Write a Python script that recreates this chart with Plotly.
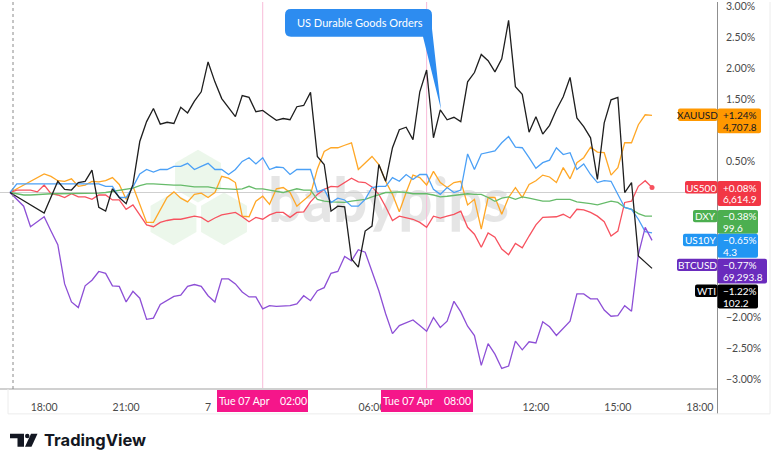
import plotly.graph_objects as go
import pandas as pd

# ---------------- data (percent change vs. start) ----------------
time_index = pd.date_range("2026-04-06 16:45", periods=95, freq="15min")

xauusd = [0.00, None, None, None, None, 0.30, 0.26, 0.19, 0.18, 0.22,
          0.10, 0.12, 0.18, 0.17, 0.19, 0.24, 0.13, -0.11, 0.10, -0.19,
          -0.48, -0.48, -0.27, -0.08, 0.01, -0.09, -0.15, -0.03, -0.01, -0.08,
          0.00, 0.26, 0.23, 0.16, -0.38, -0.39, -0.14, -0.06, -0.19, 0.06,
          0.08, 0.00, -0.22, -0.12, -0.03, 0.38, 0.66, 0.72, 0.72, 0.76,
          0.80, 0.37, 0.48, 0.58, 0.45, 0.18, -0.03, -0.31, 0.00, 0.28,
          0.24, 0.12, 0.34, 0.16, 0.08, 0.16, 0.18, -0.20, -0.11, -0.59,
          -0.08, -0.08, -0.35, -0.08, 0.08, -0.08, 0.13, 0.19, 0.28, 0.25,
          0.16, 0.40, 0.22, 0.48, 0.56, 0.73, 0.65, 0.64, 0.28, 0.40,
          0.80, 0.80, 1.09, 1.25, 1.24]

us500 = [0.00, 0.04, 0.04, 0.04, 0.01, 0.12, -0.02, -0.04, -0.08, -0.02,
         -0.07, -0.07, -0.11, -0.04, -0.04, -0.12, -0.12, -0.27, -0.20, -0.35,
         -0.52, -0.55, -0.48, -0.45, -0.43, -0.43, -0.40, -0.38, -0.40, -0.47,
         -0.41, -0.36, -0.34, -0.32, -0.39, -0.47, -0.40, -0.43, -0.36, -0.32,
         -0.32, -0.40, -0.32, -0.31, -0.15, -0.03, 0.05, 0.10, 0.09, 0.16,
         0.23, 0.17, 0.16, 0.09, -0.03, -0.23, -0.45, -0.38, -0.40, -0.43,
         -0.48, -0.56, -0.38, -0.41, -0.38, -0.35, -0.30, -0.56, -0.67, -0.88,
         -0.65, -0.72, -0.91, -1.00, -0.82, -0.89, -0.70, -0.52, -0.40, -0.39,
         -0.39, -0.35, -0.41, -0.27, -0.28, -0.32, -0.38, -0.47, -0.70, -0.62,
         -0.16, -0.14, 0.10, 0.19, 0.08]

dxy = [0.00, -0.02, -0.04, -0.04, -0.03, -0.02, -0.02, -0.02, -0.02, -0.02,
       -0.02, -0.02, -0.01, -0.01, 0.00, 0.02, 0.04, 0.05, 0.07, 0.11,
       0.14, 0.14, 0.13, 0.12, 0.12, 0.12, 0.10, 0.09, 0.09, 0.09,
       0.07, 0.06, 0.05, 0.05, 0.06, 0.10, 0.06, 0.06, 0.04, 0.02,
       0.00, 0.03, 0.06, 0.04, 0.04, -0.11, -0.14, -0.15, -0.16, -0.16,
       -0.14, -0.12, -0.11, -0.07, -0.03, 0.00, 0.00, 0.01, 0.00, -0.02,
       -0.02, -0.02, -0.04, -0.07, -0.06, -0.05, -0.03, -0.02, -0.03, -0.03,
       -0.08, -0.14, -0.09, -0.07, -0.11, -0.07, -0.09, -0.12, -0.14, -0.14,
       -0.11, -0.11, -0.11, -0.15, -0.16, -0.18, -0.20, -0.17, -0.14, -0.16,
       -0.24, -0.27, -0.34, -0.38, -0.38]

us10y = [0.00, 0.14, 0.14, 0.14, 0.14, 0.14, 0.14, 0.14, 0.14, 0.14,
         0.14, 0.14, 0.14, 0.14, 0.10, 0.10, -0.08, -0.08, 0.09, 0.30,
         0.37, 0.33, 0.37, 0.37, 0.42, 0.42, 0.47, 0.37, 0.42, 0.47,
         0.37, 0.37, 0.29, 0.37, 0.50, 0.56, 0.46, 0.56, 0.37, 0.41,
         0.40, 0.29, 0.37, 0.37, 0.37, 0.01, 0.05, -0.16, -0.09, -0.12,
         -0.22, -0.22, -0.11, 0.08, 0.10, 0.10, 0.24, 0.18, 0.29, 0.21,
         0.29, 0.29, 0.05, -0.03, 0.08, 0.00, 0.04, 0.62, 0.37, 0.62,
         0.64, 0.67, 0.80, 0.90, 0.73, 0.72, 0.56, 0.39, 0.48, 0.52,
         0.72, 0.61, 0.64, 0.37, 0.46, 0.29, 0.16, 0.19, 0.18, -0.04,
         -0.24, -0.27, -0.43, -0.63, -0.65]

btcusd = [0.00, None, -0.22, -0.55, None, -0.39, -0.62, -0.84, -1.47, -1.76,
          -1.85, -1.50, -1.41, -1.27, -1.30, -1.50, -1.51, -1.76, -1.59, -1.70,
          -2.04, -2.02, -1.80, -1.74, -1.67, -1.65, -1.51, -1.48, -1.51, -1.66,
          -1.76, -1.39, -1.39, -1.47, -1.60, -1.68, -1.68, -1.87, -1.82, -1.83,
          -1.82, -1.82, -1.79, -1.66, -1.74, -1.58, -1.53, -1.30, -1.27, -1.03,
          -1.10, -0.92, -0.96, -1.28, -1.58, -1.95, -2.27, -2.14, -2.10, -2.05,
          -2.14, -2.23, -2.01, -2.17, -2.07, -1.75, -1.92, -2.15, -2.30, -2.78,
          -2.43, -2.60, -2.83, -2.79, -2.39, -2.53, -2.40, -2.42, -2.08, -2.16,
          -2.30, -2.19, -2.07, -1.63, -1.63, -1.71, -1.71, -1.89, -1.99, -1.98,
          -1.82, -1.91, -1.00, -0.56, -0.77]

wti = [0.00, None, None, None, None, -0.33, None, 0.18, 0.05, 0.04,
       0.16, 0.18, 0.36, -0.24, -0.30, 0.06, -0.08, -0.18, 0.13, 0.82,
       1.14, 1.35, 1.10, 1.13, 1.11, 1.37, 1.28, 1.47, 1.62, 2.10,
       1.78, 1.51, 1.37, 1.22, 1.56, 1.53, 1.30, 1.32, 1.24, 1.16,
       1.19, 1.17, 1.38, 1.40, 1.61, 0.58, 0.45, -0.30, -0.22, -0.23,
       -1.07, -1.20, -0.62, -0.54, 0.45, 0.18, 0.72, 1.01, 1.05, 0.85,
       1.62, 1.97, 0.88, 1.33, 1.17, 1.21, 1.14, 1.78, 1.93, 2.22,
       2.12, 1.94, 2.15, 2.77, 1.70, 1.58, 0.97, 1.22, 0.94, 1.08,
       1.33, 1.54, 1.85, 1.20, 1.06, 0.88, 0.21, 1.12, 1.49, 1.53,
       0.00, 0.16, -1.02, -1.12, -1.22]

symbols = ["XAUUSD", "US500", "DXY", "US10Y", "BTCUSD", "WTI"]
last_change = ["+1.24%", "+0.08%", "\u22120.38%", "\u22120.65%", "\u22120.77%", "\u22121.22%"]
last_price = ["4,707.8", "6,614.9", "99.6", "4.3", "69,293.8", "102.2"]

tick_times = pd.to_datetime(["2026-04-06 18:00", "2026-04-06 21:00", "2026-04-07 00:00",
                             "2026-04-07 06:00", "2026-04-07 12:00", "2026-04-07 15:00",
                             "2026-04-07 18:00"])
tick_text = ["18:00", "21:00", "7", "06:00", "12:00", "15:00", "18:00"]
y_ticks = [3.0, 2.5, 2.0, 1.5, 0.5, -2.0, -2.5, -3.0]
y_tick_text = ["3.00%", "2.50%", "2.00%", "1.50%", "0.50%", "\u22122.00%", "\u22122.50%", "\u22123.00%"]
event_times = ["2026-04-07 02:00", "2026-04-07 08:00"]
event_text = ["Tue 07 Apr\u00a0\u00a0\u00a0\u00a002:00", "Tue 07 Apr\u00a0\u00a0\u00a0\u00a008:00"]
callout_text = "US Durable Goods Orders"

# ---------------- styles ----------------
series = [xauusd, us500, dxy, us10y, btcusd, wti]
line_colors = ["#ffa726", "#f7525f", "#66bb6a", "#4ba0f6", "#8d4fd6", "#1e1e1e"]
box_colors = ["#ff9800", "#f23645", "#4caf50", "#2196f3", "#6a2bbd", "#000000"]
box_text_colors = ["#131722", "white", "white", "white", "white", "white"]
FONT = "Lato"

W, H = 780, 467
PW, PH = 718, 388  # plot area in pixels


def px(x):
    return x / PW


def py(y):
    return 1 - y / PH


def P(x, y):
    return f"{px(x):.5f},{py(y):.5f}"


def rrect(x0, y0, x1, y1, r):
    return (f"M{P(x0 + r, y0)} L{P(x1 - r, y0)} Q{P(x1, y0)} {P(x1, y0 + r)} "
            f"L{P(x1, y1 - r)} Q{P(x1, y1)} {P(x1 - r, y1)} L{P(x0 + r, y1)} "
            f"Q{P(x0, y1)} {P(x0, y1 - r)} L{P(x0, y0 + r)} Q{P(x0, y0)} {P(x0 + r, y0)} Z")


def hexagon(cx, cy, r):
    c = 0.8660254 * r
    pts = [(cx, cy - r), (cx + c, cy - r / 2), (cx + c, cy + r / 2),
           (cx, cy + r), (cx - c, cy + r / 2), (cx - c, cy - r / 2)]
    return "M" + " L".join(P(a, b) for a, b in pts) + " Z"


fig = go.Figure()

for name, vals, col in zip(symbols, series, line_colors):
    fig.add_trace(go.Scatter(x=time_index, y=vals, mode="lines", name=name,
                             connectgaps=True,
                             line=dict(color=col, width=1.3), showlegend=False))

# last-point dot on US500
fig.add_trace(go.Scatter(x=[time_index[-1]], y=[us500[-1]], mode="markers",
                         marker=dict(color=line_colors[1], size=5),
                         showlegend=False))

shapes = []
annotations = []

# watermark (below lines)
for cx, cy in [(198, 175), (173.5, 218), (224, 218)]:
    shapes.append(dict(type="path", xref="paper", yref="paper", layer="below",
                       path=hexagon(cx, cy, 26.5),
                       fillcolor="rgba(110,190,100,0.13)", line=dict(width=0)))
shapes.append(dict(type="rect", xref="paper", yref="paper", layer="below",
                   x0=px(262), x1=px(515), y0=py(235), y1=py(160),
                   line=dict(width=0), fillcolor="rgba(0,0,0,0)",
                   label=dict(text="babypips", textposition="middle center",
                              font=dict(family=FONT, size=60, weight=900,
                                        color="rgba(0,0,0,0.10)"))))

# left dotted session line
shapes.append(dict(type="line", xref="paper", yref="paper", x0=px(13), x1=px(13),
                   y0=py(0), y1=py(392), line=dict(color="#8a8a8a", width=1, dash="dot")))

# event vertical lines
for t in event_times:
    shapes.append(dict(type="line", xref="x", yref="paper", x0=t, x1=t, y0=0, y1=1,
                       line=dict(color="#f8bbd9", width=1), layer="below"))

# frame lines
shapes.append(dict(type="line", xref="paper", yref="paper", x0=px(717.5), x1=px(717.5),
                   y0=py(0), y1=py(414), line=dict(color="#8f8f8f", width=1)))
shapes.append(dict(type="line", xref="paper", yref="paper", x0=px(8), x1=px(770),
                   y0=py(414), y1=py(414), line=dict(color="#ececec", width=1)))
shapes.append(dict(type="line", xref="paper", yref="paper", x0=px(8), x1=px(8),
                   y0=py(389), y1=py(414), line=dict(color="#ececec", width=1)))
shapes.append(dict(type="line", xref="paper", yref="paper", x0=px(770), x1=px(770),
                   y0=py(0), y1=py(414), line=dict(color="#ececec", width=1)))

# event boxes on time axis
for (x0, x1), txt in zip([(217, 308), (381, 473)], event_text):
    shapes.append(dict(type="rect", xref="paper", yref="paper", layer="above",
                       x0=px(x0), x1=px(x1), y0=py(390), y1=py(412),
                       fillcolor="#f5168a", line=dict(width=0)))
    annotations.append(dict(xref="paper", yref="paper", x=px((x0 + x1) / 2), y=py(401),
                            text=txt, showarrow=False, xanchor="center", yanchor="middle",
                            font=dict(family=FONT, size=10.5, color="white")))

# callout
callout_path = (f"M{P(291, 7)} L{P(426, 7)} Q{P(432, 7)} {P(432, 13)} L{P(432, 27)} "
                f"L{P(441, 108)} L{P(423, 35)} L{P(291, 35)} Q{P(285, 35)} {P(285, 29)} "
                f"L{P(285, 13)} Q{P(285, 7)} {P(291, 7)} Z")
shapes.append(dict(type="path", xref="paper", yref="paper", layer="above",
                   path=callout_path, fillcolor="#2d8cf0", line=dict(width=0)))
annotations.append(dict(xref="paper", yref="paper", x=px(295), y=py(21), text=callout_text,
                        showarrow=False, xanchor="left", yanchor="middle",
                        font=dict(family=FONT, size=11, color="white")))

# right-side price labels
label_geom = [  # name_x0, top, bottom(value), value_x1
    (678, 107, 132, 761),
    (685, 180, 205, 761),
    (693, 209, 233, 758),
    (683, 233, 257, 758),
    (677, 258, 283, 767),
    (695, 284, 308, 758),
]
for (nx0, top, bot, vx1), name, chg, prc, bc, tc in zip(
        label_geom, symbols, last_change, last_price, box_colors, box_text_colors):
    shapes.append(dict(type="path", xref="paper", yref="paper", layer="above",
                       path=rrect(nx0, top, 717.5, top + 12.5, 2), fillcolor=bc, line=dict(width=0)))
    shapes.append(dict(type="path", xref="paper", yref="paper", layer="above",
                       path=rrect(717.5, top, vx1, bot, 2), fillcolor=bc, line=dict(width=0)))
    annotations.append(dict(xref="paper", yref="paper", x=px((nx0 + 717.5) / 2), y=py(top + 6.5),
                            text=name, showarrow=False, xanchor="center", yanchor="middle",
                            font=dict(family=FONT, size=10, color=tc)))
    annotations.append(dict(xref="paper", yref="paper", x=px(721), y=py(top + 6.5),
                            text=chg, showarrow=False, xanchor="left", yanchor="middle",
                            font=dict(family=FONT, size=10, color=tc)))
    annotations.append(dict(xref="paper", yref="paper", x=px(721), y=py(top + 18.5),
                            text=prc, showarrow=False, xanchor="left", yanchor="middle",
                            font=dict(family=FONT, size=10, color=tc)))

# TradingView logo
shapes.append(dict(type="path", xref="paper", yref="paper",
                   path=f"M{P(10, 434)} L{P(24, 434)} L{P(24, 447)} L{P(17.5, 447)} L{P(17.5, 438.5)} L{P(10, 438.5)} Z",
                   fillcolor="#131722", line=dict(width=0)))
shapes.append(dict(type="circle", xref="paper", yref="paper",
                   x0=px(25), x1=px(29.5), y0=py(434), y1=py(438.5),
                   fillcolor="#131722", line=dict(width=0)))
shapes.append(dict(type="path", xref="paper", yref="paper",
                   path=f"M{P(31, 434)} L{P(37.5, 434)} L{P(31.5, 447)} L{P(25, 447)} Z",
                   fillcolor="#131722", line=dict(width=0)))
annotations.append(dict(xref="paper", yref="paper", x=px(42), y=py(440),
                        text="<b>TradingView</b>", showarrow=False, xanchor="left", yanchor="middle",
                        font=dict(family="Inter", size=16.5, color="#131722")))

fig.update_layout(
    width=W, height=H,
    margin=dict(l=0, r=W - PW, t=0, b=H - PH),
    paper_bgcolor="white", plot_bgcolor="white",
    font=dict(family=FONT, size=10, color="#4a4a4a"),
    shapes=shapes, annotations=annotations,
    xaxis=dict(type="date",
               range=["2026-04-06 16:23:02", "2026-04-07 18:39:54"],
               tickvals=list(tick_times), ticktext=tick_text,
               showgrid=False, zeroline=False,
               showline=True, linecolor="#d0d0d0", linewidth=2,
               ticks="", ticklabelstandoff=8,
               tickfont=dict(family=FONT, size=10.5, color="#4a4a4a")),
    yaxis=dict(side="right", range=[-3.144, 3.064],
               tickvals=y_ticks, ticktext=y_tick_text,
               showgrid=False, zeroline=True, zerolinecolor="#cfcfcf", zerolinewidth=1,
               showline=False, ticks="", ticklabelstandoff=7,
               ticklabeloverflow="allow",
               tickfont=dict(family=FONT, size=10.5, color="#4a4a4a")),
)

fig.write_html("out.html")
